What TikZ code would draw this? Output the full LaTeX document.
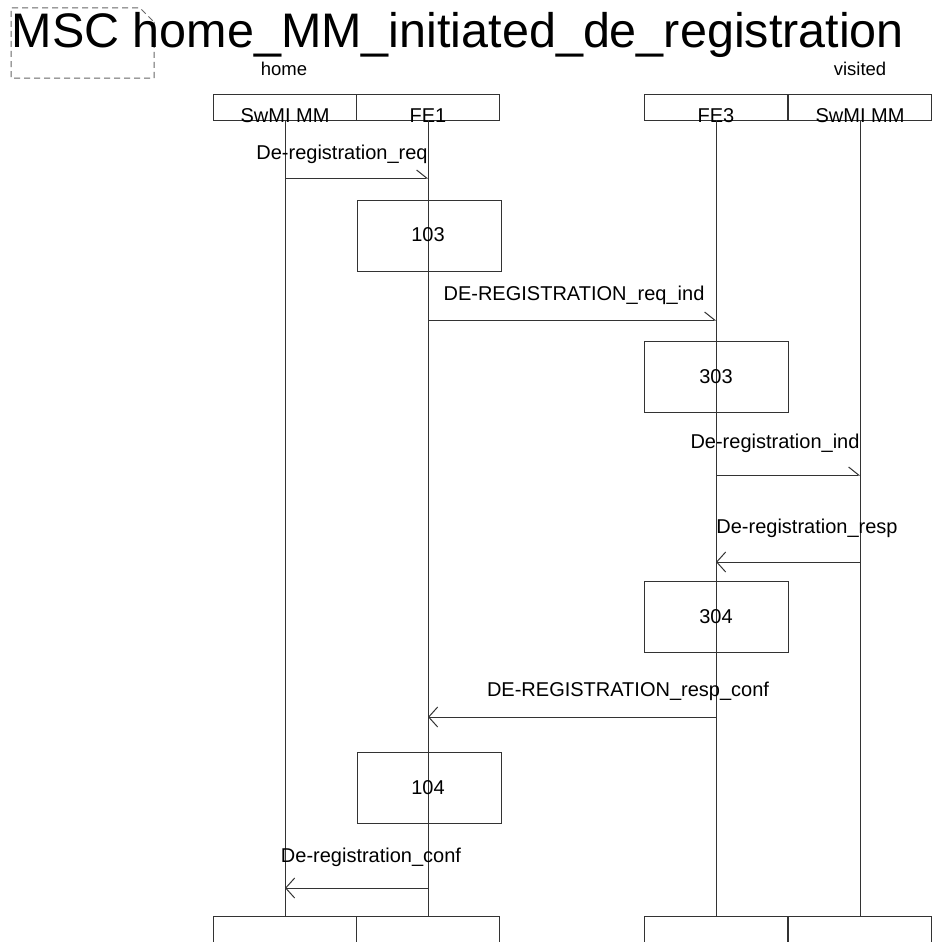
\documentclass[tikz,border=0pt]{standalone}
\usepackage{fontspec}
\setmainfont{Liberation Sans}
\usetikzlibrary{arrows.meta}
\begin{document}
\begin{tikzpicture}[x=1pt,y=-1pt,
  ln/.style={line width=1pt, draw=black!80},
  hdr/.style={ln, minimum width=143.5pt, minimum height=26pt, inner sep=0pt, outer sep=0pt},
  botbox/.style={ln, minimum width=143.5pt, minimum height=40pt, inner sep=0pt, outer sep=0pt},
  proc/.style={ln, minimum width=144pt, minimum height=71pt, inner sep=0pt, outer sep=0pt},
  lbl/.style={inner sep=0pt, anchor=base, font=\fontsize{20}{24}\selectfont},
  sml/.style={inner sep=0pt, anchor=base, font=\fontsize{18.5}{22}\selectfont},
  msgR/.style={ln, -{Straight Barb[left,length=10pt,width=16pt]}},
  msgL/.style={ln, -{Straight Barb[length=9pt,width=20pt]}},
  frame/.style={draw=black!60, line width=1pt, dash pattern=on 6pt off 4pt},
]
\useasboundingbox (0,0) rectangle (932,942);
% frame and title
\draw[frame] (154,22) -- (154,78) -- (11,78) -- (11,8) -- (140,8) -- (154,22);
\node[inner sep=0pt, anchor=base west, font=\fontsize{48.5}{58}\selectfont] (title) at (11.5,48) {MSC home\_MM\_initiated\_de\_registration};
\node[sml] (home) at (284,76) {home};
\node[sml] (visited) at (860,76) {visited};
% header boxes
\node[hdr] (h1) at (285,107) {};
\node[hdr] (h2) at (428,107) {};
\node[hdr] (h3) at (716,107) {};
\node[hdr] (h4) at (860,107) {};
\node[lbl] (t1) at (285,122) {SwMI MM};
\node[lbl] (t2) at (428,122) {FE1};
\node[lbl] (t3) at (716,122) {FE3};
\node[lbl] (t4) at (860,122) {SwMI MM};
% bottom boxes
\node[botbox, anchor=north] (b1) at (285,916) {};
\node[botbox, anchor=north] (b2) at (428,916) {};
\node[botbox, anchor=north] (b3) at (716,916) {};
\node[botbox, anchor=north] (b4) at (860,916) {};
% lifelines
\draw[ln] (h1.south) -- (b1.north);
\draw[ln] (h2.south) -- (b2.north);
\draw[ln] (h3.south) -- (b3.north);
\draw[ln] (h4.south) -- (b4.north);
% process boxes
\node[proc, fill=white] (p103) at (429,235.5) {};
\node[proc, fill=white] (p303) at (716,377) {};
\node[proc, fill=white] (p304) at (716,617) {};
\node[proc, fill=white] (p104) at (429,788) {};
\draw[ln] (h2.south |- p103.north) -- (h2.south |- p103.south);
\draw[ln] (h2.south |- p104.north) -- (h2.south |- p104.south);
\draw[ln] (h3.south |- p303.north) -- (h3.south |- p303.south);
\draw[ln] (h3.south |- p304.north) -- (h3.south |- p304.south);
\node[lbl, anchor=center] (n103) at (428,235) {103};
\node[lbl, anchor=center] (n303) at (716,377) {303};
\node[lbl, anchor=center] (n304) at (716,617) {304};
\node[lbl, anchor=center] (n104) at (428,788) {104};
% message end points
\coordinate (m1a) at (285,178); \coordinate (m1b) at (428,178);
\coordinate (m2a) at (428,320); \coordinate (m2b) at (716,320);
\coordinate (m3a) at (716,475); \coordinate (m3b) at (860,475);
\coordinate (m4a) at (860,562); \coordinate (m4b) at (716,562);
\coordinate (m5a) at (716,717); \coordinate (m5b) at (428,717);
\coordinate (m6a) at (428,888); \coordinate (m6b) at (285,888);
% messages
\draw[msgR] (m1a) -- (m1b);
\draw[msgR] (m2a) -- (m2b);
\draw[msgR] (m3a) -- (m3b);
\draw[msgL] (m4a) -- (m4b);
\draw[msgL] (m5a) -- (m5b);
\draw[msgL] (m6a) -- (m6b);
\node[lbl] (l1) at (342,159) {De-registration\_req};
\node[lbl] (l2) at (574,300) {DE-REGISTRATION\_req\_ind};
\node[lbl] (l3) at (775,448) {De-registration\_ind};
\node[lbl] (l4) at (807,533) {De-registration\_resp};
\node[lbl] (l5) at (628,696) {DE-REGISTRATION\_resp\_conf};
\node[lbl] (l6) at (371,862) {De-registration\_conf};
\end{tikzpicture}
\end{document}
